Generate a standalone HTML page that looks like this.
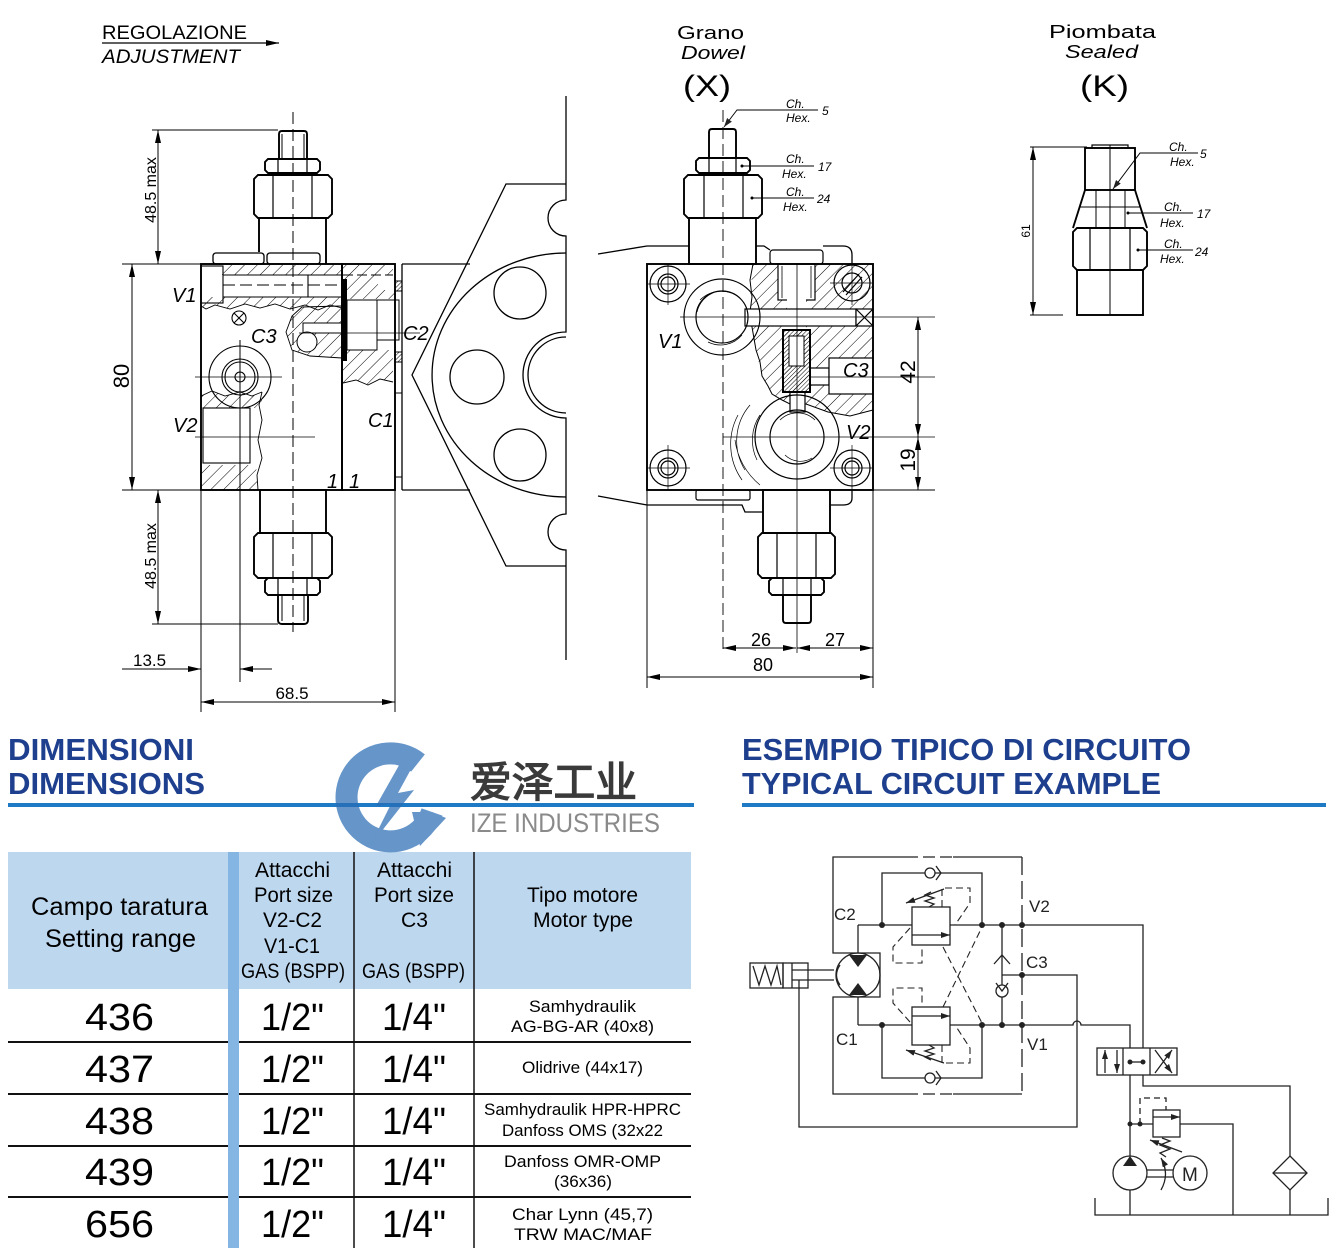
<!DOCTYPE html>
<html><head><meta charset="utf-8">
<style>
html,body{margin:0;padding:0;background:#fff;}
svg{display:block;}
text{font-family:"Liberation Sans",sans-serif;}
</style></head><body>
<svg width="1337" height="1256" viewBox="0 0 1337 1256" xmlns="http://www.w3.org/2000/svg">
<defs>
<pattern id="h" patternUnits="userSpaceOnUse" width="9" height="9" patternTransform="rotate(45)"><line x1="0" y1="0" x2="0" y2="9" stroke="#000" stroke-width="1"/></pattern>
<pattern id="hd" patternUnits="userSpaceOnUse" width="3" height="3" patternTransform="rotate(45)"><line x1="0" y1="0" x2="0" y2="3" stroke="#000" stroke-width="1"/></pattern>
<marker id="ar" markerUnits="userSpaceOnUse" markerWidth="13" markerHeight="6" refX="13" refY="3" orient="auto-start-reverse"><path d="M0,0 L13,3 L0,6 z" fill="#000"/></marker>
<marker id="as" markerUnits="userSpaceOnUse" markerWidth="9" markerHeight="6" refX="9" refY="3" orient="auto-start-reverse"><path d="M0,0 L9,3 L0,6 z" fill="#222"/></marker>
</defs>

<!-- ============ TOP TEXTS ============ -->
<text x="102" y="39" font-size="19" textLength="145" lengthAdjust="spacingAndGlyphs">REGOLAZIONE</text>
<line x1="102" y1="43" x2="279" y2="43" stroke="#000" stroke-width="1.2" marker-end="url(#ar)"/>
<text x="102" y="63" font-size="19" font-style="italic" textLength="138" lengthAdjust="spacingAndGlyphs">ADJUSTMENT</text>

<text x="677" y="39" font-size="18" textLength="67" lengthAdjust="spacingAndGlyphs">Grano</text>
<text x="681" y="59" font-size="18" font-style="italic" textLength="64" lengthAdjust="spacingAndGlyphs">Dowel</text>
<text x="683" y="96" font-size="30" textLength="48" lengthAdjust="spacingAndGlyphs">(X)</text>

<text x="1049" y="38" font-size="18" textLength="107" lengthAdjust="spacingAndGlyphs">Piombata</text>
<text x="1065" y="58" font-size="18" font-style="italic" textLength="73" lengthAdjust="spacingAndGlyphs">Sealed</text>
<text x="1080" y="96" font-size="30" textLength="49" lengthAdjust="spacingAndGlyphs">(K)</text>

<!-- ============ LEFT DRAWING ============ -->
<g fill="none" stroke="#000" stroke-width="1">
  <!-- dimension 48.5 top -->
  <line x1="152" y1="130" x2="278" y2="130"/>
  <line x1="158" y1="130" x2="158" y2="264" marker-start="url(#ar)" marker-end="url(#ar)"/>
  <!-- 80 -->
  <line x1="122" y1="264" x2="201" y2="264"/>
  <line x1="122" y1="490" x2="201" y2="490"/>
  <line x1="132" y1="264" x2="132" y2="490" marker-start="url(#ar)" marker-end="url(#ar)"/>
  <!-- 48.5 bottom -->
  <line x1="152" y1="624" x2="278" y2="624"/>
  <line x1="158" y1="490" x2="158" y2="624" marker-start="url(#ar)" marker-end="url(#ar)"/>
  <!-- 13.5 -->
  <line x1="122" y1="669" x2="201" y2="669" marker-end="url(#ar)"/>
  <line x1="272" y1="669" x2="240" y2="669" marker-end="url(#ar)"/>
  <line x1="201" y1="490" x2="201" y2="712"/>
  <line x1="240" y1="340" x2="240" y2="682"/>
  <!-- 68.5 -->
  <line x1="201" y1="702" x2="395" y2="702" marker-start="url(#ar)" marker-end="url(#ar)"/>
  <line x1="395" y1="490" x2="395" y2="712"/>
  <!-- centerline cartridge -->
  <line x1="293" y1="112" x2="293" y2="632" stroke-dasharray="12 5"/>
</g>
<g font-size="16" text-anchor="middle">
  <text transform="translate(156,190) rotate(-90)">48.5  max</text>
  <text transform="translate(156,556) rotate(-90)">48.5  max</text>
</g>
<text transform="translate(129,376) rotate(-90)" font-size="22" text-anchor="middle">80</text>
<text x="133" y="666" font-size="17">13.5</text>
<text x="292" y="699" font-size="17" text-anchor="middle">68.5</text>

<!-- hatched sections left -->
<g stroke="none" fill="url(#h)">
  <rect x="222" y="265" width="120" height="10"/>
  <path d="M201,297H342V308L330,305L318,310L305,305L290,309L275,304L260,308L245,304L230,309L215,305L206,309L201,306Z"/>
  <path d="M342,306L302,307L292,316L286,332L292,350L310,356L342,358Z"/>
  <path d="M201,396L212,391L225,396L240,392L252,396L262,392V408H201Z"/>
  <path d="M201,465H256L258,490H201Z"/>
  <path d="M343,265H393V275H378V290H395V299H343Z"/>
  <path d="M343,350H393V382L380,379L368,385L356,380L343,383Z"/>
</g>
<g fill="#fff" stroke="#000" stroke-width="1">
  <rect x="303" y="323" width="39" height="10"/>
  <circle cx="307" cy="342" r="10"/>
  <rect x="347" y="300" width="30" height="50"/>
  <rect x="377" y="300" width="22" height="40"/>
</g>
<g fill="none" stroke="#000" stroke-width="1.1">
  <!-- V1 bore -->
  <rect x="201" y="266" width="22" height="37"/>
  <line x1="223" y1="275" x2="342" y2="275"/>
  <line x1="223" y1="297" x2="342" y2="297"/>
  <line x1="223" y1="285" x2="342" y2="285" stroke-dasharray="12 5"/>
  <line x1="308" y1="275" x2="308" y2="297"/>
  <!-- break lines -->
  <path d="M201,306L206,309L215,305L230,309L245,304L260,308L275,304L290,309L305,305L318,310L330,305L342,308" stroke-width="0.9"/>
  <path d="M342,306L302,307L292,316L286,332L292,350L310,356L342,358" stroke-width="0.9"/>
  <!-- symbol -->
  <circle cx="239" cy="318" r="7"/>
  <line x1="234" y1="313" x2="244" y2="323"/><line x1="244" y1="313" x2="234" y2="323"/>
  <!-- C3 port circles -->
  <circle cx="240" cy="377" r="31"/>
  <circle cx="240" cy="377" r="18"/>
  <circle cx="240" cy="377" r="15"/>
  <circle cx="240" cy="377" r="5"/>
  <line x1="195" y1="377" x2="282" y2="377" stroke-width="0.7"/>
  <!-- V2 port -->
  <rect x="203" y="408" width="47" height="55"/>
  <path d="M262,392L259,405L262,420L258,440L262,458L257,475L258,490" stroke-width="0.9"/>
  <line x1="195" y1="437" x2="315" y2="437" stroke-width="0.7"/>
  <path d="M201,396L212,391L225,396L240,392L252,396L262,392" stroke-width="0.9"/>
  <!-- right block details -->
  <path d="M343,383L356,380L368,385L380,379L393,382" stroke-width="0.9"/>
  <line x1="343" y1="275" x2="393" y2="275" stroke-dasharray="10 4"/>
  <line x1="299" y1="333" x2="420" y2="333" stroke-width="0.7"/>
</g>
<rect x="343" y="279" width="4" height="82" fill="#000"/>
<rect x="395" y="281" width="7" height="10" fill="url(#hd)" stroke="#000" stroke-width="1"/>
<rect x="395" y="352" width="7" height="10" fill="url(#hd)" stroke="#000" stroke-width="1"/>
<g fill="none" stroke="#000" stroke-width="1.9">
  <rect x="201" y="264" width="141" height="226"/>
  <rect x="342" y="264" width="53" height="226"/>
  <rect x="395" y="393" width="7" height="84" stroke-width="1"/>
  <line x1="402" y1="264" x2="402" y2="490" stroke-width="1.3"/>
  <line x1="402" y1="264" x2="470" y2="264" stroke-width="1.3"/>
  <line x1="402" y1="490" x2="470" y2="490" stroke-width="1.3"/>
  <!-- top cartridge -->
  <path d="M279,159V134Q279,131 282,131H304Q307,131 307,134V159"/>
  <line x1="282" y1="134" x2="282" y2="159" stroke-width="1"/><line x1="304" y1="134" x2="304" y2="159" stroke-width="1"/>
  <path d="M268,159H317L320,162V170L317,173H268L265,170V162Z"/>
  <line x1="278" y1="159" x2="278" y2="173" stroke-width="1.2"/><line x1="307" y1="159" x2="307" y2="173" stroke-width="1.2"/>
  <path d="M258,175H328L332,179V214L328,218H258L254,214V179Z"/>
  <line x1="273" y1="175" x2="273" y2="218" stroke-width="1.2"/><line x1="312" y1="175" x2="312" y2="218" stroke-width="1.2"/>
  <path d="M259,252V218H326V264"/>
  <rect x="213" y="253" width="51" height="11" rx="3" stroke-width="1.3"/>
  <rect x="267" y="253" width="53" height="11" rx="3" stroke-width="1.3"/>
  <!-- bottom cartridge -->
  <rect x="260" y="490" width="66" height="43"/>
  <path d="M258,533H328L332,537V574L328,578H258L254,574V537Z"/>
  <line x1="273" y1="533" x2="273" y2="578" stroke-width="1.2"/><line x1="312" y1="533" x2="312" y2="578" stroke-width="1.2"/>
  <path d="M268,578H317L320,581V592L317,595H268L265,592V581Z"/>
  <line x1="278" y1="578" x2="278" y2="595" stroke-width="1.2"/><line x1="307" y1="578" x2="307" y2="595" stroke-width="1.2"/>
  <path d="M278,595V620Q278,624 282,624H304Q308,624 308,620V595"/>
  <line x1="282" y1="595" x2="282" y2="621" stroke-width="1"/><line x1="304" y1="595" x2="304" y2="621" stroke-width="1"/>
</g>
<g font-size="20" font-style="italic">
  <text x="172" y="302">V1</text>
  <text x="251" y="343">C3</text>
  <text x="403" y="340">C2</text>
  <text x="173" y="432">V2</text>
  <text x="368" y="427">C1</text>
  <text x="327" y="488">1</text>
  <text x="349" y="488">1</text>
</g>

<!-- ============ MOTOR OUTLINE (middle) ============ -->
<g fill="none" stroke="#000" stroke-width="1.3">
  <path d="M566,184H506L412,375L506,566H566"/>
  <path d="M566,253A134,122 0 0 0 566,497"/>
  <path d="M566,96V200A18,18 0 0 0 566,236V332A43,43 0 0 0 566,418V514A18,18 0 0 0 566,550V660"/>
  <path d="M566,337A38,38 0 0 0 566,413"/>
  <circle cx="520" cy="293" r="26"/>
  <circle cx="477" cy="377" r="27"/>
  <circle cx="520" cy="455" r="26"/>
  <path d="M598,254L647,246H689"/>
  <path d="M756,246L764,246L770,250"/>
  <path d="M823,246H843Q852,246 852,255V264"/>
  <path d="M598,496L647,505H742L745,512H763"/>
  <path d="M830,505H843Q852,505 852,498V490"/>
</g>

<!-- ============ MIDDLE BLOCK (X) ============ -->
<path d="M753,264L873,264L873,410L850,416L828,412L806,404L790,404L772,394L762,376L756,350L752,327L750,297Z" fill="url(#h)" stroke="none"/>
<path d="M753,264L750,280L752,297L750,312L752,327L756,350L760,362L762,376L768,386L772,394L782,400L790,404L806,404L828,412L850,416L873,410" fill="none" stroke="#000" stroke-width="1"/>
<g fill="#fff" stroke="#000" stroke-width="1.2">
  <rect x="778" y="264" width="37" height="36"/>
  <rect x="787" y="299" width="19" height="32" stroke="none"/>
  <rect x="745" y="309" width="111" height="17"/>
  <rect x="790" y="392" width="15" height="20"/>
  <rect x="810" y="368" width="19" height="17"/>
  <rect x="829" y="358" width="44" height="36"/>
  <rect x="856" y="309" width="17" height="17"/>
</g>
<rect x="783" y="330" width="27" height="62" fill="url(#hd)" stroke="#000" stroke-width="2"/>
<rect x="789" y="336" width="15" height="30" fill="#fff" stroke="#000" stroke-width="1"/>
<g fill="none" stroke="#000" stroke-width="1.2">
  <line x1="782" y1="266" x2="782" y2="298" stroke-width="0.8"/><line x1="811" y1="266" x2="811" y2="298" stroke-width="0.8"/>
  <rect x="770" y="250" width="53" height="14" rx="3"/>
  <line x1="856" y1="309" x2="873" y2="326"/><line x1="873" y1="309" x2="856" y2="326"/>
  <!-- corner holes -->
  <circle cx="668" cy="284" r="18"/><circle cx="668" cy="284" r="10"/><circle cx="668" cy="284" r="7"/>
  <circle cx="852" cy="283" r="18"/><circle cx="852" cy="283" r="10"/>
  <line x1="843" y1="292" x2="859" y2="274"/><line x1="846" y1="295" x2="862" y2="277"/>
  <circle cx="668" cy="468" r="18"/><circle cx="668" cy="468" r="10"/><circle cx="668" cy="468" r="7"/>
  <circle cx="852" cy="468" r="18"/><circle cx="852" cy="468" r="10"/><circle cx="852" cy="468" r="7"/>
  <g stroke-width="0.7">
    <line x1="647" y1="284" x2="690" y2="284"/><line x1="668" y1="264" x2="668" y2="305"/>
    <line x1="830" y1="283" x2="873" y2="283"/><line x1="852" y1="262" x2="852" y2="305"/>
    <line x1="647" y1="468" x2="690" y2="468"/><line x1="668" y1="445" x2="668" y2="490"/>
    <line x1="830" y1="468" x2="873" y2="468"/><line x1="852" y1="445" x2="852" y2="490"/>
  </g>
  <!-- V1 port -->
  <circle cx="722" cy="317" r="38"/>
  <circle cx="722" cy="317" r="26"/>
  <path d="M700,300A30,30 0 0 1 740,298M697,312A28,28 0 0 1 715,292M708,342A28,28 0 0 0 742,335" stroke-width="0.7"/>
  <!-- V2 port -->
  <circle cx="797" cy="437" r="42"/>
  <circle cx="797" cy="437" r="27"/>
  <path d="M750,405A55,55 0 0 0 745,470M738,415A62,62 0 0 0 742,480M760,415A45,45 0 0 0 757,460M735,440A70,70 0 0 0 760,485" stroke-width="0.7"/>
  <path d="M780,420A25,25 0 0 1 815,420M785,455A22,22 0 0 0 812,458" stroke-width="0.7"/>
  <!-- centre lines -->
  <line x1="680" y1="317" x2="935" y2="317" stroke-width="0.8"/>
  <line x1="723" y1="437" x2="935" y2="437" stroke-width="0.8"/>
  <line x1="810" y1="377" x2="935" y2="377" stroke-width="0.8"/>
  <line x1="797" y1="264" x2="797" y2="653" stroke-width="0.8"/>
  <line x1="723" y1="110" x2="723" y2="653" stroke-dasharray="12 5" stroke-width="0.9"/>
  <rect x="696" y="490" width="54" height="10" rx="2"/>
</g>
<g fill="none" stroke="#000" stroke-width="1.9">
  <rect x="647" y="264" width="226" height="226"/>
  <!-- top cartridge -->
  <path d="M709,158V132Q709,129 712,129H733Q736,129 736,132V158"/>
  <path d="M699,158H747L750,161V170L747,173H699L696,170V161Z"/>
  <line x1="709" y1="158" x2="709" y2="173" stroke-width="1.2"/><line x1="736" y1="158" x2="736" y2="173" stroke-width="1.2"/>
  <path d="M688,175H758L762,179V214L758,218H688L684,214V179Z"/>
  <line x1="704" y1="175" x2="704" y2="218" stroke-width="1.2"/><line x1="743" y1="175" x2="743" y2="218" stroke-width="1.2"/>
  <rect x="689" y="218" width="67" height="46"/>
  <!-- bottom cartridge -->
  <rect x="763" y="490" width="67" height="43"/>
  <path d="M762,533H831L835,537V574L831,578H762L758,574V537Z"/>
  <line x1="777" y1="533" x2="777" y2="578" stroke-width="1.2"/><line x1="816" y1="533" x2="816" y2="578" stroke-width="1.2"/>
  <path d="M772,578H821L824,581V592L821,595H772L769,592V581Z"/>
  <line x1="783" y1="578" x2="783" y2="595" stroke-width="1.2"/><line x1="811" y1="578" x2="811" y2="595" stroke-width="1.2"/>
  <path d="M783,595V620Q783,623 786,623H808Q811,623 811,620V595"/>
</g>
<g font-size="20" font-style="italic">
  <text x="658" y="348">V1</text>
  <text x="846" y="439">V2</text>
  <text x="843" y="377">C3</text>
</g>
<!-- leaders X -->
<g fill="none" stroke="#000" stroke-width="0.9">
  <path d="M818,110H737L724,127" marker-end="url(#as)"/>
  <line x1="742" y1="166" x2="814" y2="166"/>
  <line x1="752" y1="198" x2="814" y2="198"/>
</g>
<circle cx="742" cy="166" r="1.5"/><circle cx="752" cy="198" r="1.5"/>
<g font-size="12" font-style="italic">
  <text x="786" y="108">Ch.</text><text x="786" y="122">Hex.</text><text x="822" y="115">5</text>
  <text x="786" y="163">Ch.</text><text x="782" y="178">Hex.</text><text x="818" y="171">17</text>
  <text x="786" y="196">Ch.</text><text x="783" y="211">Hex.</text><text x="817" y="203">24</text>
</g>
<!-- dims X -->
<g fill="none" stroke="#000" stroke-width="1">
  <line x1="873" y1="490" x2="935" y2="490"/>
  <line x1="918" y1="317" x2="918" y2="437" marker-start="url(#ar)" marker-end="url(#ar)"/>
  <line x1="918" y1="437" x2="918" y2="490" marker-start="url(#ar)" marker-end="url(#ar)"/>
  <line x1="647" y1="490" x2="647" y2="688"/>
  <line x1="873" y1="490" x2="873" y2="688"/>
  <line x1="723" y1="648" x2="796" y2="648" marker-start="url(#ar)" marker-end="url(#ar)"/>
  <line x1="797" y1="648" x2="873" y2="648" marker-start="url(#ar)" marker-end="url(#ar)"/>
  <line x1="647" y1="677" x2="873" y2="677" marker-start="url(#ar)" marker-end="url(#ar)"/>
</g>
<text transform="translate(915,372) rotate(-90)" font-size="21" text-anchor="middle">42</text>
<text transform="translate(915,460) rotate(-90)" font-size="21" text-anchor="middle">19</text>
<text x="761" y="646" font-size="18" text-anchor="middle">26</text>
<text x="835" y="646" font-size="18" text-anchor="middle">27</text>
<text x="763" y="671" font-size="18" text-anchor="middle">80</text>

<!-- ============ K DRAWING ============ -->
<g fill="none" stroke="#000" stroke-width="1.9">
  <rect x="1092" y="145" width="36" height="3" stroke-width="1.2"/>
  <rect x="1085" y="148" width="50" height="42"/>
  <path d="M1085,190L1073,228M1135,190L1147,228"/>
  <path d="M1077,228H1143L1147,232V266L1143,270H1077L1073,266V232Z"/>
  <line x1="1090" y1="228" x2="1090" y2="270" stroke-width="1.2"/><line x1="1130" y1="228" x2="1130" y2="270" stroke-width="1.2"/>
  <rect x="1077" y="270" width="66" height="45"/>
</g>
<g fill="none" stroke="#000" stroke-width="1">
  <line x1="1096" y1="190" x2="1096" y2="228"/><line x1="1125" y1="190" x2="1125" y2="228"/>
  <line x1="1080" y1="207" x2="1141" y2="207"/>
  <line x1="1110" y1="145" x2="1110" y2="315"/>
  <line x1="1030" y1="147" x2="1087" y2="147"/>
  <line x1="1030" y1="315" x2="1063" y2="315"/>
  <line x1="1033" y1="147" x2="1033" y2="315" marker-start="url(#ar)" marker-end="url(#ar)"/>
  <path d="M1198,153H1140L1113,189" marker-end="url(#as)"/>
  <line x1="1128" y1="213" x2="1193" y2="213"/>
  <line x1="1138" y1="250" x2="1193" y2="250"/>
</g>
<circle cx="1128" cy="213" r="1.5"/><circle cx="1138" cy="250" r="1.5"/>
<text transform="translate(1030,231) rotate(-90)" font-size="12" text-anchor="middle">61</text>
<g font-size="12" font-style="italic">
  <text x="1169" y="151">Ch.</text><text x="1170" y="166">Hex.</text><text x="1200" y="158">5</text>
  <text x="1164" y="211">Ch.</text><text x="1160" y="227">Hex.</text><text x="1197" y="218">17</text>
  <text x="1164" y="248">Ch.</text><text x="1160" y="263">Hex.</text><text x="1195" y="256">24</text>
</g>

<!-- ============ HEADINGS ============ -->
<rect x="8" y="803" width="686" height="4" fill="#1f7ac6"/>
<rect x="742" y="803" width="584" height="4" fill="#1f7ac6"/>
<g font-size="31" font-weight="bold" fill="#1d3f8e">
  <text x="8" y="760" textLength="186" lengthAdjust="spacingAndGlyphs">DIMENSIONI</text>
  <text x="8" y="794" textLength="197" lengthAdjust="spacingAndGlyphs">DIMENSIONS</text>
  <text x="742" y="760" textLength="449" lengthAdjust="spacingAndGlyphs">ESEMPIO TIPICO DI CIRCUITO</text>
  <text x="742" y="794" textLength="419" lengthAdjust="spacingAndGlyphs">TYPICAL CIRCUIT EXAMPLE</text>
</g>

<!-- ============ TABLE ============ -->
<rect x="8" y="852" width="683" height="137" fill="#bdd7ef"/>
<rect x="228" y="852" width="11" height="396" fill="#85b5e2"/>
<g stroke="#111" stroke-width="1.5">
  <line x1="354" y1="852" x2="354" y2="1248"/>
  <line x1="474" y1="852" x2="474" y2="1248"/>
</g>
<g stroke="#111" stroke-width="2">
  <line x1="8" y1="1042" x2="228" y2="1042"/><line x1="239" y1="1042" x2="691" y2="1042"/>
  <line x1="8" y1="1094" x2="228" y2="1094"/><line x1="239" y1="1094" x2="691" y2="1094"/>
  <line x1="8" y1="1146" x2="228" y2="1146"/><line x1="239" y1="1146" x2="691" y2="1146"/>
  <line x1="8" y1="1197" x2="228" y2="1197"/><line x1="239" y1="1197" x2="691" y2="1197"/>
</g>
<g fill="#000" lengthAdjust="spacingAndGlyphs">
  <text x="31" y="915" font-size="25" textLength="177" lengthAdjust="spacingAndGlyphs">Campo taratura</text>
  <text x="45" y="947" font-size="25" textLength="151" lengthAdjust="spacingAndGlyphs">Setting range</text>
  <g font-size="21">
    <text x="255" y="877" textLength="75" lengthAdjust="spacingAndGlyphs">Attacchi</text>
    <text x="254" y="902" textLength="79" lengthAdjust="spacingAndGlyphs">Port size</text>
    <text x="263" y="927" textLength="59" lengthAdjust="spacingAndGlyphs">V2-C2</text>
    <text x="264" y="953" textLength="56" lengthAdjust="spacingAndGlyphs">V1-C1</text>
    <text x="241" y="978" textLength="104" lengthAdjust="spacingAndGlyphs">GAS (BSPP)</text>
    <text x="377" y="877" textLength="75" lengthAdjust="spacingAndGlyphs">Attacchi</text>
    <text x="374" y="902" textLength="80" lengthAdjust="spacingAndGlyphs">Port size</text>
    <text x="401" y="927" textLength="27" lengthAdjust="spacingAndGlyphs">C3</text>
    <text x="362" y="978" textLength="103" lengthAdjust="spacingAndGlyphs">GAS (BSPP)</text>
    <text x="527" y="902" textLength="111" lengthAdjust="spacingAndGlyphs">Tipo motore</text>
    <text x="533" y="927" textLength="100" lengthAdjust="spacingAndGlyphs">Motor type</text>
  </g>
  <g font-size="38">
    <text x="85" y="1030" textLength="69" lengthAdjust="spacingAndGlyphs">436</text>
    <text x="85" y="1082" textLength="69" lengthAdjust="spacingAndGlyphs">437</text>
    <text x="85" y="1134" textLength="69" lengthAdjust="spacingAndGlyphs">438</text>
    <text x="85" y="1185" textLength="69" lengthAdjust="spacingAndGlyphs">439</text>
    <text x="85" y="1237" textLength="69" lengthAdjust="spacingAndGlyphs">656</text>
    <text x="261" y="1030" textLength="63" lengthAdjust="spacingAndGlyphs">1/2"</text>
    <text x="261" y="1082" textLength="63" lengthAdjust="spacingAndGlyphs">1/2"</text>
    <text x="261" y="1134" textLength="63" lengthAdjust="spacingAndGlyphs">1/2"</text>
    <text x="261" y="1185" textLength="63" lengthAdjust="spacingAndGlyphs">1/2"</text>
    <text x="261" y="1237" textLength="63" lengthAdjust="spacingAndGlyphs">1/2"</text>
    <text x="382" y="1030" textLength="64" lengthAdjust="spacingAndGlyphs">1/4"</text>
    <text x="382" y="1082" textLength="64" lengthAdjust="spacingAndGlyphs">1/4"</text>
    <text x="382" y="1134" textLength="64" lengthAdjust="spacingAndGlyphs">1/4"</text>
    <text x="382" y="1185" textLength="64" lengthAdjust="spacingAndGlyphs">1/4"</text>
    <text x="382" y="1237" textLength="64" lengthAdjust="spacingAndGlyphs">1/4"</text>
  </g>
  <g font-size="17">
    <text x="529" y="1012" textLength="107" lengthAdjust="spacingAndGlyphs">Samhydraulik</text>
    <text x="511" y="1032" textLength="143" lengthAdjust="spacingAndGlyphs">AG-BG-AR (40x8)</text>
    <text x="522" y="1073" textLength="121" lengthAdjust="spacingAndGlyphs">Olidrive (44x17)</text>
    <text x="484" y="1115" textLength="197" lengthAdjust="spacingAndGlyphs">Samhydraulik HPR-HPRC</text>
    <text x="502" y="1136" textLength="161" lengthAdjust="spacingAndGlyphs">Danfoss OMS (32x22</text>
    <text x="504" y="1167" textLength="157" lengthAdjust="spacingAndGlyphs">Danfoss OMR-OMP</text>
    <text x="554" y="1187" textLength="58" lengthAdjust="spacingAndGlyphs">(36x36)</text>
    <text x="512" y="1220" textLength="141" lengthAdjust="spacingAndGlyphs">Char Lynn (45,7)</text>
    <text x="514" y="1240" textLength="138" lengthAdjust="spacingAndGlyphs">TRW MAC/MAF</text>
  </g>
</g>

<!-- ============ LOGO WATERMARK ============ -->
<g opacity="0.72">
  <path d="M418,763A44,44 0 1 0 432,812" fill="none" stroke="#2a6db5" stroke-width="22"/>
  <path d="M432,812L446,818L420,846L412,812Z" fill="#2a6db5"/>
  <path d="M402,760L376,806L391,804L370,846L414,790L398,793L416,760Z" fill="#2a6db5"/>
</g>
<text x="470" y="797" font-size="42" font-family="'Noto Sans CJK SC','WenQuanYi Zen Hei',sans-serif" font-weight="bold" fill="#3a3a3a" textLength="167" lengthAdjust="spacingAndGlyphs">爱泽工业</text>
<text x="470" y="832" font-size="27" fill="#8a8a8a" textLength="190" lengthAdjust="spacingAndGlyphs">IZE INDUSTRIES</text>

<!-- ============ CIRCUIT ============ -->
<g fill="none" stroke="#222" stroke-width="1.3">
  <!-- block outline -->
  <path d="M906,857H833V953H880V997H833V1094H906"/>
  <path d="M953,857H1022M953,1094H1022"/>
  <line x1="906" y1="857" x2="953" y2="857" stroke-dasharray="12 5"/>
  <line x1="906" y1="1094" x2="953" y2="1094" stroke-dasharray="12 5"/>
  <line x1="1022" y1="857" x2="1022" y2="1094" stroke-dasharray="18 6"/>
  <!-- motor -->
  <circle cx="858" cy="975" r="22"/>
  <line x1="858" y1="953" x2="858" y2="925"/>
  <line x1="858" y1="997" x2="858" y2="1025"/>
  <!-- brake -->
  <rect x="750" y="963" width="33" height="25"/>
  <path d="M753,966L759,985L765,966L771,985L777,966L781,985"/>
  <rect x="783" y="963" width="25" height="25"/>
  <line x1="792" y1="963" x2="792" y2="988"/>
  <path d="M792,970H834M792,980H834"/>
  <path d="M840,965Q833,975 840,985"/>
  <!-- main lines -->
  <path d="M858,925H912M950,925H1143V1048"/>
  <path d="M858,1025H912M950,1025H1073A4,4 0 0 1 1081,1025H1130V1048"/>
  <path d="M1143,1075V1086H1290V1156"/>
  <path d="M1130,1075V1156"/>
  <path d="M1002,975H1077V1127H799V980"/>
  <!-- loops -->
  <path d="M882,925V873H982V925"/>
  <path d="M882,1025V1078H982V1025"/>
  <circle cx="930" cy="873" r="5" fill="#fff"/>
  <path d="M936,866L941,873L936,880"/>
  <circle cx="930" cy="1078" r="5" fill="#fff"/>
  <path d="M936,1071L941,1078L936,1085"/>
  <!-- valves -->
  <rect x="912" y="907" width="38" height="38" fill="#fff"/>
  <line x1="912" y1="935" x2="950" y2="935" marker-end="url(#as)"/>
  <rect x="912" y="1007" width="38" height="38" fill="#fff"/>
  <line x1="912" y1="1016" x2="950" y2="1016" marker-end="url(#as)"/>
  <path d="M929,907L934,904L925,901L934,898L925,895L931,892"/>
  <line x1="944" y1="889" x2="906" y2="903" marker-end="url(#as)"/>
  <path d="M929,1045L934,1048L925,1051L934,1054L925,1057L931,1060"/>
  <line x1="944" y1="1063" x2="906" y2="1050" marker-end="url(#as)"/>
  <!-- pilots -->
  <g stroke-dasharray="7 4" stroke-width="1.1">
    <path d="M942,907V888H970V903L955,925"/>
    <path d="M910,928L893,947V963H922V945"/>
    <path d="M942,1045V1063H970V1048L955,1025"/>
    <path d="M910,1022L893,1003V988H922V1007"/>
    <path d="M943,947L983,1025"/>
    <path d="M943,1007L983,925"/>
  </g>
  <!-- check on C3 -->
  <line x1="1002" y1="925" x2="1002" y2="1025"/>
  <path d="M994,964L1002,955L1010,964"/>
  <circle cx="1002" cy="991" r="6" fill="#fff"/>
  <path d="M996,983L1002,991L1008,983"/>
  <!-- directional valve -->
  <rect x="1097" y="1048" width="80" height="27" fill="#fff"/>
  <line x1="1123" y1="1048" x2="1123" y2="1075"/>
  <line x1="1150" y1="1048" x2="1150" y2="1075"/>
  <line x1="1105" y1="1073" x2="1105" y2="1050" marker-end="url(#as)"/>
  <line x1="1117" y1="1050" x2="1117" y2="1073" marker-end="url(#as)"/>
  <line x1="1130" y1="1062" x2="1143" y2="1062"/>
  <line x1="1155" y1="1073" x2="1172" y2="1050" marker-end="url(#as)"/>
  <line x1="1155" y1="1050" x2="1172" y2="1073" marker-end="url(#as)"/>
  <!-- relief -->
  <rect x="1153" y="1110" width="27" height="27" fill="#fff"/>
  <line x1="1153" y1="1117" x2="1180" y2="1117" marker-end="url(#as)"/>
  <path d="M1140,1124V1098H1166V1110" stroke-dasharray="6 4"/>
  <path d="M1130,1124H1153M1180,1124H1233V1215"/>
  <path d="M1162,1138L1170,1141L1160,1145L1170,1149L1160,1153L1166,1157"/>
  <line x1="1182" y1="1152" x2="1150" y2="1140" marker-end="url(#as)"/>
  <!-- pump & motor -->
  <circle cx="1130" cy="1173" r="17"/>
  <path d="M1147,1170H1173M1147,1177H1173"/>
  <path d="M1161,1158Q1170,1174 1161,1190" marker-start="url(#as)"/>
  <circle cx="1190" cy="1173" r="17"/>
  <!-- tank -->
  <path d="M1095,1198V1215H1328V1198"/>
  <path d="M1130,1190V1215M1290,1190V1215"/>
  <!-- filter -->
  <path d="M1290,1156L1307,1173L1290,1190L1273,1173Z"/>
  <line x1="1273" y1="1173" x2="1307" y2="1173"/>
</g>
<path d="M849,955H867L858,967Z" fill="#222"/>
<path d="M849,995H867L858,983Z" fill="#222"/>
<path d="M1123,1166H1137L1130,1156Z" fill="#222"/>
<g fill="#222">
  <circle cx="882" cy="925" r="3"/><circle cx="982" cy="925" r="3"/><circle cx="1002" cy="925" r="3"/><circle cx="1022" cy="925" r="3"/>
  <circle cx="882" cy="1025" r="3"/><circle cx="982" cy="1025" r="3"/><circle cx="1002" cy="1025" r="3"/><circle cx="1022" cy="1025" r="3"/>
  <circle cx="1022" cy="975" r="3"/>
  <circle cx="1130" cy="1062" r="2.5"/><circle cx="1143" cy="1062" r="2.5"/>
  <circle cx="1130" cy="1124" r="2.5"/><circle cx="1140" cy="1124" r="2.5"/>
</g>
<g font-size="17" fill="#222">
  <text x="834" y="920">C2</text>
  <text x="836" y="1045">C1</text>
  <text x="1029" y="912">V2</text>
  <text x="1026" y="968">C3</text>
  <text x="1027" y="1050">V1</text>
  <text x="1182" y="1181" font-size="19">M</text>
</g>
</svg>
</body></html>
